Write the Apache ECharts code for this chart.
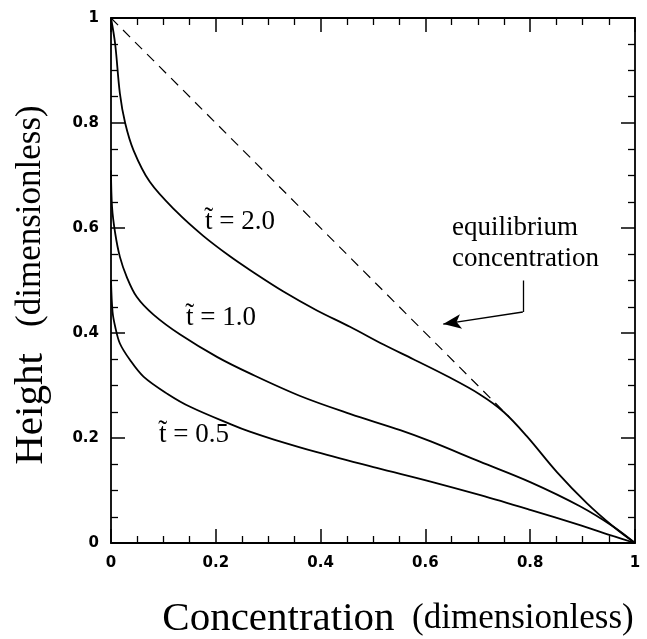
<!DOCTYPE html>
<html>
<head>
<meta charset="utf-8">
<script src="https://cdn.jsdelivr.net/npm/echarts@6/dist/echarts.min.js"></script>
<style>
  html, body { margin: 0; padding: 0; background: #fff; }
  #main { width: 647px; height: 639px; }
</style>
</head>
<body>
<div id="main"></div>
<script>
// [concentration, height]
var curveT20 = [
  [0, 1], [0.008, 0.95], [0.017, 0.856], [0.027, 0.8], [0.043, 0.748],
  [0.074, 0.688], [0.125, 0.631], [0.176, 0.585], [0.227, 0.546], [0.265, 0.52],
  [0.329, 0.479], [0.393, 0.443], [0.456, 0.412], [0.52, 0.378], [0.577, 0.35],
  [0.641, 0.318], [0.704, 0.283], [0.749, 0.25], [0.793, 0.204], [0.851, 0.135],
  [0.908, 0.076], [0.959, 0.031], [1, 0]
];
var curveT10 = [
  [0, 0.71], [0.002, 0.64], [0.008, 0.59], [0.017, 0.545], [0.03, 0.507],
  [0.049, 0.469], [0.081, 0.435], [0.132, 0.397], [0.203, 0.354], [0.265, 0.323],
  [0.361, 0.28], [0.456, 0.246], [0.552, 0.215], [0.609, 0.194], [0.704, 0.155],
  [0.8, 0.116], [0.895, 0.07], [0.959, 0.031], [1, 0]
];
var curveT05 = [
  [0, 0.5], [0.003, 0.44], [0.008, 0.412], [0.017, 0.38], [0.036, 0.349],
  [0.062, 0.317], [0.108, 0.284], [0.152, 0.259], [0.229, 0.226], [0.265, 0.212],
  [0.311, 0.197], [0.393, 0.173], [0.507, 0.143], [0.61, 0.117], [0.705, 0.091],
  [0.8, 0.063], [0.895, 0.034], [0.959, 0.013], [1, 0]
];
var equilibrium = [[0, 1], [0.76, 0.24]];
// arrow pointing at the equilibrium line
var arrowPath = [[0.786, 0.5], [0.786, 0.44], [0.634, 0.417]];
var curveLabels = ["t\u0303 = 2.0", "t\u0303 = 1.0", "t\u0303 = 0.5"];

var chart = echarts.init(document.getElementById("main"), null, { renderer: "canvas" });

var tickFont = { color: "#000", fontFamily: "DejaVu Sans", fontWeight: "bold", fontSize: 15 };

function makeAxis(pos, showLabel, margin) {
  return {
    type: "value",
    position: pos,
    min: 0,
    max: 1,
    interval: 0.2,
    axisLine: { show: true, onZero: false, lineStyle: { color: "#000", width: 1.8 } },
    axisTick: { show: true, inside: true, length: 14, lineStyle: { color: "#000", width: 1.5 } },
    minorTick: { show: true, splitNumber: 4, length: 7, lineStyle: { color: "#000", width: 1.3 } },
    splitLine: { show: false },
    axisLabel: Object.assign({ show: showLabel, margin: margin }, tickFont),
  };
}

function curve(data) {
  return {
    type: "line",
    data: data,
    showSymbol: false,
    symbol: "none",
    smooth: 0.35,
    lineStyle: { color: "#000", width: 1.8 },
    silent: true,
  };
}

var titleRich = {
  a: { fontFamily: "Liberation Serif", fontSize: 41, fill: "#000" },
  b: { fontFamily: "Liberation Serif", fontSize: 35, fill: "#000" },
};

var option = {
  animation: false,
  grid: { left: 111, top: 18, right: 12, bottom: 96, containLabel: false },
  xAxis: [makeAxis("bottom", true, 13), makeAxis("top", false, 8)],
  yAxis: [makeAxis("left", true, 12), makeAxis("right", false, 8)],
  series: [
    curve(curveT20),
    curve(curveT10),
    curve(curveT05),
    {
      type: "line",
      data: equilibrium,
      showSymbol: false,
      symbol: "none",
      lineStyle: { color: "#000", width: 1.2, type: [10, 7] },
      silent: true,
      markLine: {
        silent: true,
        animation: false,
        symbol: ["none", "arrow"],
        symbolSize: [11, 18],
        label: { show: false },
        lineStyle: { color: "#000", width: 1.3, type: "solid" },
        data: [
          [{ coord: arrowPath[0], symbol: "none" }, { coord: arrowPath[1], symbol: "none" }],
          [{ coord: arrowPath[1], symbol: "none" }, { coord: arrowPath[2], symbol: "arrow" }],
        ],
      },
    },
  ],
  graphic: [
    { type: "text", x: 240, y: 222, style: { text: curveLabels[0], font: "27px 'Liberation Serif'", fill: "#000", align: "center", verticalAlign: "middle" } },
    { type: "text", x: 221, y: 318, style: { text: curveLabels[1], font: "27px 'Liberation Serif'", fill: "#000", align: "center", verticalAlign: "middle" } },
    { type: "text", x: 194, y: 435, style: { text: curveLabels[2], font: "27px 'Liberation Serif'", fill: "#000", align: "center", verticalAlign: "middle" } },
    {
      type: "text", x: 452, y: 243,
      style: { text: "equilibrium\nconcentration", font: "27px 'Liberation Serif'", lineHeight: 31, fill: "#000", align: "left", verticalAlign: "middle" },
    },
    {
      type: "text", x: 398, y: 619,
      style: {
        text: "{a|Concentration}{b|  (dimensionless)}",
        fill: "#000", align: "center", verticalAlign: "middle",
        rich: titleRich,
      },
    },
    {
      type: "text", x: 31, y: 285, rotation: Math.PI / 2,
      style: {
        text: "{a|Height}{b|   (dimensionless)}",
        fill: "#000", align: "center", verticalAlign: "middle",
        rich: titleRich,
      },
    },
  ],
};

chart.setOption(option);
</script>
</body>
</html>
